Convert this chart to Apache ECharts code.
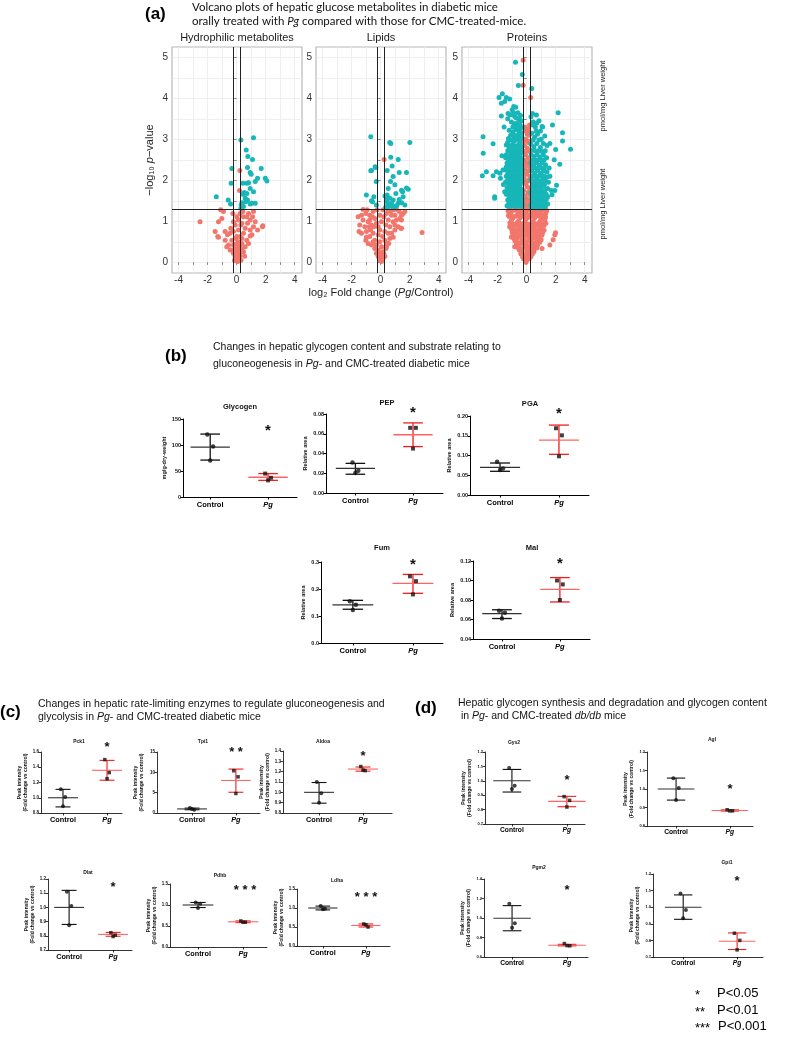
<!DOCTYPE html>
<html><head><meta charset="utf-8">
<script src="https://cdn.jsdelivr.net/npm/echarts@6.0.0/dist/echarts.min.js"></script>
<style>html,body{margin:0;padding:0;background:#fff}#c{width:789px;height:1039px}</style>
</head><body><div id="c"></div>
<script>
// ---------------- DATA ----------------
// Volcano plots: [log2 fold change, -log10 p]
const hydroSig = [[0.29,2.98],[1.16,3.04],[0.66,2.74],[0.77,2.58],[1.09,2.51],[-0.33,2.29],[0.75,2.31],[1.69,2.29],[0.93,2.19],[1.0,2.15],[1.44,2.05],[1.97,2.05],[2.08,1.98],[1.28,1.97],[-0.38,1.93],[0.43,1.93],[0.70,1.93],[0.82,1.94],[0.93,1.80],[1.16,1.72],[0.52,1.70],[0.43,1.66],[0.70,1.68],[-1.4,1.6],[0.59,1.56],[0.75,1.52],[-0.58,1.52],[0.36,1.45],[1.05,1.44],[1.28,1.44],[0.93,1.42],[-0.42,1.42],[0.31,1.40],[0.47,1.36],[0.29,1.32],[0.62,1.48]];
const hydroNs = [[0.22,2.24],[0.2,1.75],[-2.52,0.99],[-0.91,1.24],[-1.02,1.07],[-1.25,0.99],[-1.48,0.75],[-1.25,0.61],[-0.79,0.75],[-0.63,0.67],[-0.45,0.71],[-0.26,1.19],[0.24,1.19],[0.47,1.11],[0.70,1.11],[0.93,1.03],[0.75,0.95],[0.36,0.95],[1.16,0.87],[1.80,0.89],[0.59,0.83],[0.93,0.79],[1.05,0.67],[0.47,0.71],[0.24,0.63],[0.70,0.54],[0.36,0.46],[0.01,0.46],[-0.33,0.54],[-0.56,0.42],[-0.1,0.34],[0.13,0.30],[0.24,0.18],[-0.1,0.14],[0.01,0.06],[-0.22,0.22],[0.47,0.26],[0.59,0.38],[-0.45,0.30],[-0.68,0.38],[0.01,0.63],[-0.22,0.75],[0.13,0.79],[0.29,0.91],[0.13,1.03],[0.43,1.24],[1.16,1.24],[0.82,1.19],[1.1,1.11],[1.28,0.99],[1.44,0.79],[-0.40,0.83],[-0.1,0.91],[0.08,0.02],[-0.03,0.1],[0.2,0.12],[0.36,0.34],[0.82,0.46],[-0.22,0.42],[-0.79,0.54],[0.01,1.11],[-0.22,0.99],[0.93,0.64],[0.36,0.58],[0.13,0.50],[-0.33,0.30],[-0.1,0.22],[0.29,0.26],[-1.3,0.63],[1.78,0.87],[0.05,0.2],[0.15,0.4],[-0.05,0.58],[0.55,0.15],[-0.15,0.05],[0.3,0.05],[-1.1,1.28]];
const lipidSig = [[-0.68,3.06],[0.63,2.92],[0.70,2.90],[2.01,2.92],[0.70,2.56],[1.21,2.51],[-0.68,2.23],[-0.38,2.33],[0.79,2.35],[-0.33,2.31],[-0.63,2.24],[0.45,2.24],[1.28,2.19],[1.78,2.19],[0.86,2.09],[-0.30,1.97],[0.68,1.97],[0.98,1.89],[0.52,1.80],[1.44,1.76],[1.90,1.78],[1.78,1.81],[0.45,1.64],[1.05,1.68],[-0.98,1.64],[-0.47,1.60],[0.63,1.56],[0.86,1.52],[1.55,1.60],[1.51,1.72],[-0.56,1.48],[-0.63,1.50],[0.45,1.48],[0.75,1.44],[1.21,1.44],[1.44,1.45],[0.59,1.37],[0.98,1.36],[-0.29,1.40],[1.67,1.40],[1.28,1.53],[0.35,1.35],[0.5,1.42],[0.85,1.34],[1.1,1.38],[0.4,1.55],[0.3,1.62]];
const lipidNs = [[0.24,2.51],[-1.21,1.29],[-1.55,1.11],[-1.02,1.19],[-0.75,1.15],[-0.52,1.24],[-1.21,1.03],[-0.86,0.99],[-0.63,0.91],[-0.40,1.07],[-0.29,0.95],[-1.32,0.71],[-0.98,0.75],[-0.70,0.79],[-1.02,0.54],[-0.75,0.63],[-0.52,0.71],[-0.40,0.54],[-0.63,0.42],[-0.40,0.34],[-0.29,0.22],[-0.17,0.14],[-0.06,0.06],[0.06,0.02],[0.17,0.1],[0.22,0.22],[0.36,0.34],[0.45,0.46],[0.63,0.58],[0.75,0.71],[0.98,0.79],[1.21,0.87],[1.44,1.03],[1.55,1.19],[1.28,1.24],[0.98,1.15],[0.68,1.24],[0.40,1.19],[0.22,1.11],[0.52,1.03],[0.86,0.99],[1.09,1.03],[0.36,0.91],[0.63,0.87],[0.29,0.75],[0.52,0.71],[0.13,0.63],[0.29,0.54],[-0.06,0.50],[-0.17,0.67],[-0.06,0.79],[-0.17,0.87],[0.06,0.99],[-0.06,1.15],[-0.24,1.28],[0.06,0.38],[-0.17,0.30],[0.13,0.26],[0.29,0.15],[-0.47,0.87],[-0.79,0.87],[-1.09,0.87],[-1.44,0.91],[-1.49,0.75],[-0.98,0.61],[-0.86,0.46],[-0.52,0.50],[-0.29,0.42],[0.75,1.15],[1.44,1.15],[1.67,1.24],[1.32,1.07],[0.98,0.91],[1.44,0.83],[0.86,0.61],[0.56,0.46],[0.40,0.38],[0.06,0.14],[-0.10,0.22],[-0.75,1.03],[-1.32,1.15],[2.85,0.73],[1.39,0.83],[-0.93,1.28],[-0.56,1.11],[0.17,1.28],[0.52,1.28],[0.86,1.28],[1.09,1.29]];
const protSig = [[-0.77,4.88],[-0.3,4.58],[-0.57,4.31],[0.35,4.24],[-1.67,4.11],[-1.9,4.02],[-1.4,4.02],[-1.17,3.98],[-1.74,3.88],[-1.51,3.92],[-0.89,3.80],[2.17,3.65],[0.40,3.63],[0.67,3.59],[-1.74,3.57],[-1.28,3.63],[-0.94,3.59],[1.78,3.35],[1.06,3.31],[-3.0,3.06],[2.47,3.16],[2.47,2.96],[3.02,2.76],[-2.31,2.89],[-2.99,2.66],[-2.77,2.21],[-3.05,2.11],[-2.31,2.11],[-2.08,2.21],[-1.80,2.05],[-1.84,2.17],[-1.63,2.25],[-2.2,1.6],[-2.2,1.56],[-1.51,1.72],[2.28,2.39],[1.94,1.75],[2.06,1.88],[2.0,2.75],[1.6,2.9],[1.9,2.5],[-1.6,1.9],[-1.7,2.6],[-1.55,3.3],[-1.3,3.5],
[-1.0,3.72],[-0.75,3.78],[-0.6,3.65],[-0.8,3.55],[-0.5,3.48],[-1.05,3.42],[-0.85,3.38],[-0.65,3.4],[-0.45,3.35],[-0.35,3.45],[-1.2,3.22],[-0.95,3.18],[-0.75,3.24],[-0.55,3.2],[-0.38,3.16],[-0.3,3.28],[-1.25,3.02],[-1.05,2.98],[-0.85,3.04],[-0.65,3.0],[-0.48,2.96],[-0.32,3.05],[-1.4,2.86],[-1.15,2.84],[-0.95,2.88],[-0.75,2.83],[-0.55,2.87],[-0.38,2.82],[-1.3,2.72],[-1.1,2.68],[-0.9,2.72],[-0.7,2.69],[-0.5,2.73],[-0.33,2.68],[-1.45,2.55],[-1.2,2.57],[-1.0,2.53],[-0.8,2.56],[-0.6,2.52],[-0.42,2.57],[-0.3,2.5],[-1.35,2.42],[-1.12,2.38],[-0.92,2.42],[-0.72,2.39],[-0.52,2.43],[-0.35,2.38],[-1.5,2.26],[-1.25,2.23],[-1.05,2.27],[-0.85,2.24],[-0.65,2.27],[-0.45,2.23],[-0.3,2.26],[-1.4,2.1],[-1.18,2.12],[-0.98,2.08],[-0.78,2.12],[-0.58,2.09],[-0.4,2.13],[-1.45,1.96],[-1.22,1.93],[-1.02,1.97],[-0.82,1.94],[-0.62,1.97],[-0.44,1.93],[-0.3,1.98],[-1.35,1.82],[-1.12,1.78],[-0.92,1.82],[-0.72,1.79],[-0.52,1.83],[-0.35,1.78],[-1.4,1.66],[-1.18,1.63],[-0.98,1.67],[-0.78,1.64],[-0.58,1.67],[-0.42,1.63],[-0.3,1.68],[-1.3,1.52],[-1.08,1.48],[-0.88,1.52],[-0.68,1.49],[-0.48,1.53],[-0.33,1.48],[-1.35,1.38],[-1.15,1.37],[-0.95,1.39],[-0.75,1.36],[-0.55,1.39],[-0.38,1.37],[-0.28,1.4],
[-1.15,3.6],[-0.9,3.65],[-0.7,3.52],[-0.42,3.58],[-0.95,3.3],[-0.7,3.32],[-0.5,3.25],[-1.1,3.1],[-0.9,3.12],[-0.6,3.1],[-0.42,3.02],[-1.3,2.93],[-1.0,2.8],[-0.85,2.95],[-0.65,2.78],[-0.45,2.9],[-1.2,2.78],[-1.4,2.62],[-1.05,2.62],[-0.85,2.64],[-0.68,2.6],[-0.48,2.63],[-0.38,2.75],[-1.25,2.47],[-1.05,2.45],[-0.82,2.48],[-0.62,2.46],[-0.42,2.47],[-1.4,2.33],[-1.15,2.31],[-0.95,2.34],[-0.75,2.31],[-0.55,2.34],[-0.36,2.32],[-1.3,2.18],[-1.08,2.18],[-0.88,2.17],[-0.68,2.19],[-0.48,2.18],[-0.32,2.17],[-1.3,2.03],[-1.1,2.03],[-0.9,2.02],[-0.7,2.04],[-0.5,2.03],[-0.35,2.06],[-1.25,1.88],[-1.05,1.88],[-0.85,1.88],[-0.65,1.9],[-0.45,1.88],[-1.28,1.73],[-1.05,1.72],[-0.85,1.74],[-0.65,1.73],[-0.48,1.74],[-0.33,1.73],[-1.2,1.58],[-1.0,1.58],[-0.8,1.57],[-0.6,1.59],[-0.4,1.57],[-1.22,1.44],[-1.0,1.44],[-0.8,1.45],[-0.6,1.44],[-0.42,1.45],[-0.3,1.55],
[0.3,3.55],[0.45,3.42],[0.6,3.3],[0.85,3.45],[1.1,3.3],[0.35,3.15],[0.55,3.05],[0.75,3.12],[1.0,3.0],[1.25,3.08],[0.3,2.88],[0.5,2.82],[0.7,2.9],[0.95,2.8],[1.15,2.9],[1.4,2.85],[0.32,2.62],[0.52,2.58],[0.72,2.63],[0.92,2.57],[1.15,2.62],[1.38,2.55],[0.3,2.42],[0.48,2.38],[0.68,2.43],[0.88,2.37],[1.08,2.42],[1.3,2.38],[1.55,2.3],[0.35,2.22],[0.55,2.18],[0.75,2.23],[0.95,2.17],[1.15,2.22],[1.4,2.2],[1.6,2.1],[0.3,2.02],[0.5,1.98],[0.7,2.03],[0.9,1.97],[1.1,2.02],[1.3,1.98],[1.5,1.95],[0.38,1.85],[0.6,1.83],[0.8,1.87],[1.0,1.83],[1.2,1.86],[1.45,1.8],[1.7,1.75],[0.3,1.7],[0.5,1.68],[0.7,1.72],[0.9,1.67],[1.1,1.71],[1.35,1.66],[1.75,1.65],[0.35,1.56],[0.55,1.53],[0.75,1.57],[0.95,1.52],[1.15,1.56],[1.35,1.53],[0.3,1.4],[0.5,1.38],[0.7,1.42],[0.9,1.37],[1.1,1.41],[1.3,1.38],
[0.4,3.35],[0.7,3.4],[0.95,3.2],[0.45,2.98],[0.65,3.2],[0.85,2.98],[0.4,2.73],[0.6,2.72],[0.82,2.72],[1.05,2.7],[1.28,2.72],[0.4,2.5],[0.6,2.48],[0.8,2.5],[1.0,2.48],[1.2,2.5],[0.42,2.3],[0.62,2.3],[0.82,2.3],[1.02,2.3],[1.22,2.3],[0.4,2.1],[0.6,2.1],[0.8,2.1],[1.0,2.1],[1.2,2.1],[1.4,2.08],[0.45,1.93],[0.65,1.92],[0.85,1.93],[1.05,1.92],[1.25,1.92],[0.4,1.78],[0.6,1.76],[0.8,1.78],[1.0,1.76],[1.25,1.75],[0.4,1.62],[0.6,1.62],[0.8,1.63],[1.0,1.62],[1.2,1.62],[1.45,1.6],[0.4,1.47],[0.6,1.46],[0.8,1.47],[1.0,1.46],[1.2,1.47],[1.45,1.42],[0.35,1.34],[0.6,1.33],[0.8,1.33],[1.0,1.33],[1.2,1.33]];
const protNs = [[-0.24,4.93],[-0.24,4.32],[0.28,4.02],[0.2,3.35],[0.1,3.25],[-0.1,3.2],[0.18,3.1],[-0.05,3.0],[0.12,2.92],[-0.15,2.85],[0.05,2.78],[0.2,2.7],[-0.08,2.62],[0.1,2.55],[-0.2,2.5],[0.0,2.42],[0.18,2.35],[-0.12,2.3],[0.08,2.22],[-0.02,2.15],[0.22,2.1],[-0.18,2.05],[0.12,1.98],[-0.06,1.92],[0.02,1.85],[0.2,1.8],[-0.2,1.75],[0.1,1.7],[-0.1,1.62],[0.0,1.55],[0.16,1.5],[-0.16,1.45],[0.06,1.4],[-0.06,1.35],[0.22,1.33],[-0.22,1.32],[-0.04,2.72],[0.04,3.12],[0.15,2.0],[-0.14,2.4],
[-0.12,3.3],[0.15,3.2],[-0.2,2.95],[0.22,2.95],[-0.18,2.7],[0.2,2.5],[-0.22,2.2],[0.22,2.25],[-0.2,1.95],[0.22,1.65],[-0.22,1.55],
[-1.28,1.26],[-1.05,1.24],[-0.8,1.27],[-0.55,1.22],[-0.3,1.26],[-0.05,1.23],[0.2,1.27],[0.45,1.22],[0.7,1.26],[0.95,1.23],[1.2,1.27],[1.38,1.25],[-1.2,1.12],[-0.95,1.08],[-0.7,1.13],[-0.45,1.09],[-0.2,1.12],[0.05,1.08],[0.3,1.12],[0.55,1.09],[0.8,1.13],[1.05,1.08],[1.3,1.1],[-1.15,0.96],[-0.9,0.93],[-0.65,0.97],[-0.4,0.94],[-0.15,0.97],[0.1,0.93],[0.35,0.96],[0.6,0.94],[0.85,0.97],[1.1,0.93],[1.32,0.95],[-1.05,0.82],[-0.8,0.78],[-0.55,0.81],[-0.3,0.79],[-0.05,0.82],[0.2,0.78],[0.45,0.81],[0.7,0.79],[0.95,0.82],[1.2,0.78],[-0.95,0.66],[-0.7,0.63],[-0.45,0.67],[-0.2,0.64],[0.05,0.66],[0.3,0.63],[0.55,0.67],[0.8,0.64],[1.05,0.66],[-0.8,0.52],[-0.55,0.48],[-0.3,0.51],[-0.05,0.49],[0.2,0.52],[0.45,0.48],[0.7,0.51],[0.9,0.49],[-0.6,0.36],[-0.38,0.33],[-0.15,0.37],[0.08,0.34],[0.3,0.36],[0.52,0.33],[0.7,0.35],[-0.4,0.21],[-0.2,0.18],[0.0,0.22],[0.2,0.19],[0.4,0.21],[-0.2,0.08],[0.0,0.05],[0.18,0.09],
[-1.1,1.18],[-0.62,1.17],[-0.15,1.19],[0.35,1.17],[0.85,1.19],[1.3,1.18],[-1.05,1.02],[-0.55,1.01],[-0.08,1.03],[0.45,1.01],[0.95,1.02],[1.25,1.03],[-0.95,0.88],[-0.45,0.86],[0.02,0.87],[0.5,0.88],[1.0,0.86],[-0.85,0.73],[-0.35,0.71],[0.15,0.72],[0.65,0.73],[1.1,0.72],[-0.65,0.58],[-0.18,0.56],[0.35,0.57],[0.8,0.58],[-0.5,0.43],[0.0,0.41],[0.55,0.42],[-0.3,0.28],[0.15,0.27],[0.5,0.26],[-0.1,0.14],[0.12,0.13],
[-1.2,1.3],[-0.95,1.31],[-0.7,1.3],[-0.45,1.3],[0.1,1.3],[0.35,1.3],[0.6,1.31],[0.85,1.3],[1.1,1.31],[1.32,1.3],[-1.25,1.15],[-0.85,1.12],[-0.35,1.14],[0.15,1.15],[0.65,1.15],[1.15,1.15],[-1.1,0.9],[-0.7,0.9],[-0.25,0.88],[0.25,0.88],[0.75,0.9],[1.2,0.9],[-1.0,0.74],[-0.6,0.73],[-0.1,0.74],[0.4,0.74],[0.9,0.72],[-0.88,0.58],[-0.35,0.6],[0.15,0.58],[0.62,0.6],[1.0,0.55],[-0.7,0.45],[-0.2,0.45],[0.3,0.45],[0.75,0.42],[-0.5,0.3],[0.32,0.3],[-0.28,0.13],[0.3,0.14],[0.05,0.3],[-0.05,0.0],
[-1.05,0.62],[-0.82,0.38],[1.94,0.67],[1.82,0.55],[1.6,0.42],[-1.17,0.87],[1.99,0.72],[1.06,0.34],[-0.94,0.62]];
const volcanoXTicks = [-4,-2,0,2,4];
const volcanoXGrid = [-4,-3,-2,-1,0,1,2,3,4];
const volcanoYTicks = [0,1,2,3,4,5];
const volcanoYGrid = [0,0.5,1,1.5,2,2.5,3,3.5,4,4.5,5];
const FC_LINE = 0.263, P_LINE = 1.301;

// Dot plots: individual values (Control, Pg) and [mean, SD low, SD high]
const groups = ['Control', 'Pg'];
const glyCtrl = [120, 97, 70],         glyPg = [45, 37, 32];
const glyCtrlStat = [96, 71, 121],     glyPgStat = [38, 32, 45];
const pepCtrl = [0.031, 0.0226, 0.0203], pepPg = [0.066, 0.066, 0.045];
const pepCtrlStat = [0.025, 0.019, 0.030], pepPgStat = [0.059, 0.047, 0.071];
const pgaCtrl = [0.084, 0.067, 0.063], pgaPg = [0.169, 0.151, 0.098];
const pgaCtrlStat = [0.070, 0.060, 0.081], pgaPgStat = [0.139, 0.103, 0.177];
const fumCtrl = [0.155, 0.142, 0.122], fumPg = [0.247, 0.229, 0.180];
const fumCtrlStat = [0.141, 0.125, 0.158], fumPgStat = [0.221, 0.184, 0.254];
const malCtrl = [0.069, 0.067, 0.061], malPg = [0.100, 0.096, 0.080];
const malCtrlStat = [0.066, 0.061, 0.070], malPgStat = [0.091, 0.078, 0.103];
const pck1Ctrl = [1.11, 1.01, 0.89],   pck1Pg = [1.50, 1.33, 1.25];
const pck1CtrlStat = [1.0, 0.88, 1.11], pck1PgStat = [1.36, 1.23, 1.49];
const tpi1Ctrl = [1.2, 0.8, 1.0],      tpi1Pg = [10.4, 8.9, 4.8];
const tpi1CtrlStat = [1.0, 0.8, 1.2],  tpi1PgStat = [8.0, 5.1, 10.8];
const aldoaCtrl = [1.10, 0.99, 0.90],  aldoaPg = [1.25, 1.21, 1.215];
const aldoaCtrlStat = [1.0, 0.895, 1.095], aldoaPgStat = [1.225, 1.205, 1.245];
const dlatCtrl = [1.11, 1.01, 0.875],  dlatPg = [0.822, 0.805, 0.795];
const dlatCtrlStat = [1.0, 0.88, 1.12], dlatPgStat = [0.81, 0.797, 0.824];
const pdhbCtrl = [1.06, 1.03, 0.93],   pdhbPg = [0.62, 0.59, 0.59];
const pdhbCtrlStat = [1.0, 0.94, 1.06], pdhbPgStat = [0.60, 0.58, 0.62];
const ldhaCtrl = [1.05, 0.98, 0.97],   ldhaPg = [0.58, 0.50, 0.56];
const ldhaCtrlStat = [1.0, 0.95, 1.05], ldhaPgStat = [0.54, 0.50, 0.58];
const gys2Ctrl = [1.089, 0.966, 0.943], gys2Pg = [0.89, 0.864, 0.818];
const gys2CtrlStat = [1.0, 0.922, 1.079], gys2PgStat = [0.857, 0.82, 0.892];
const aglCtrl = [1.058, 1.005, 0.94],  aglPg = [0.888, 0.882, 0.882];
const aglCtrlStat = [1.0, 0.94, 1.059], aglPgStat = [0.884, 0.881, 0.887];
const pgm2Ctrl = [1.145, 0.945, 0.90], pgm2Pg = [0.738, 0.715, 0.717];
const pgm2CtrlStat = [0.997, 0.869, 1.127], pgm2PgStat = [0.72, 0.714, 0.73];
const gpi1Ctrl = [1.082, 0.983, 0.933], gpi1Pg = [0.843, 0.80, 0.743];
const gpi1CtrlStat = [1.0, 0.927, 1.074], gpi1PgStat = [0.795, 0.745, 0.845];

// ---------------- BUILD ----------------
const AR = '"Liberation Sans", Arial, sans-serif';
const LT = 'Lato, "Open Sans", sans-serif';
const JIT = [-0.05, 0.05, 0];
const grids = [], xAxes = [], yAxes = [], series = [], graphics = [];

function txt(x, y, text, o) {
  o = o || {};
  const base = {fontFamily: o.ff || AR, fontSize: o.fs || 10, fontWeight: o.fw || 'normal', fill: o.color || '#000'};
  const rich = {};
  if (o.rich) Object.keys(o.rich).forEach(k => { rich[k] = Object.assign({}, base, o.rich[k]); });
  graphics.push({type: 'text', x: x, y: y, rotation: o.rot || 0, silent: true, z: 100,
    style: Object.assign({text: text, align: o.align || 'left', verticalAlign: o.va || 'middle', rich: rich}, base)});
}

// ---- Volcano plots ----
const volcanoes = [
  {left: 172, sig: hydroSig, ns: hydroNs, title: 'Hydrophilic metabolites'},
  {left: 316, sig: lipidSig, ns: lipidNs, title: 'Lipids'},
  {left: 462, sig: protSig, ns: protNs, title: 'Proteins'}
];
const RED = '#f2766b', TEAL = '#17b6b8';
volcanoes.forEach((v, i) => {
  grids.push({left: v.left, top: 47, width: 130, height: 226, show: true, borderColor: '#b8b8b8', borderWidth: 1.2, backgroundColor: '#fff'});
  const xa = {type: 'value', gridIndex: i, min: -4.45, max: 4.5,
    axisLine: {show: false},
    axisTick: {show: true, length: 2.5, customValues: volcanoXGrid, lineStyle: {color: '#666', width: 0.8}},
    axisLabel: {customValues: volcanoXTicks, fontFamily: AR, fontSize: 10, color: '#333', margin: 2},
    splitLine: {show: true, lineStyle: {color: '#ebebeb', width: 0.8}}};
  if (i === 1) {
    xa.name = 'log₂ Fold change ({i|Pg}/Control)';
    xa.nameLocation = 'middle'; xa.nameGap = 14;
    xa.nameTextStyle = {fontFamily: AR, fontSize: 11, color: '#222',
      rich: {i: {fontFamily: AR, fontSize: 11, fontStyle: 'italic', color: '#222'}}};
  }
  xAxes.push(xa);
  const ya = {type: 'value', gridIndex: i, min: -0.26, max: 5.25,
    axisLine: {show: false},
    axisTick: {show: true, length: 2.5, customValues: volcanoYGrid, lineStyle: {color: '#666', width: 0.8}},
    axisLabel: {customValues: volcanoYTicks, fontFamily: AR, fontSize: 10, color: '#333', margin: 4},
    splitLine: {show: true, lineStyle: {color: '#ebebeb', width: 0.8}}};
  if (i === 0) {
    ya.name = '−log₁₀ {i|p}−value';
    ya.nameLocation = 'middle'; ya.nameGap = 17; ya.nameRotate = 90;
    ya.nameTextStyle = {fontFamily: AR, fontSize: 11, color: '#222',
      rich: {i: {fontFamily: AR, fontSize: 11, fontStyle: 'italic', color: '#222'}}};
  }
  yAxes.push(ya);
  series.push({type: 'scatter', xAxisIndex: i, yAxisIndex: i, data: v.ns, symbolSize: 5, itemStyle: {color: RED, opacity: 1}, z: 2});
  series.push({type: 'scatter', xAxisIndex: i, yAxisIndex: i, data: v.sig, symbolSize: 5, itemStyle: {color: TEAL, opacity: 1}, z: 3,
    markLine: {silent: true, symbol: 'none', label: {show: false}, animation: false,
      lineStyle: {color: '#222', width: 1, type: 'solid'},
      data: [{xAxis: -FC_LINE}, {xAxis: FC_LINE}, {yAxis: P_LINE}]}});
  txt(v.left + 65, 38, v.title, {align: 'center', fs: 11, color: '#1a1a1a'});
});
txt(603, 96, 'pmol/mg Liver weight', {rot: Math.PI / 2, align: 'center', fs: 7.5, color: '#222'});
txt(603, 204, 'pmol/mg Liver weight', {rot: Math.PI / 2, align: 'center', fs: 7.5, color: '#222'});

// ---- Dot plots ----
function renderSummary(params, api) {
  const x = api.value(0), m = api.value(1), lo = api.value(2), hi = api.value(3), g = api.value(4);
  const lw = api.value(5);
  const bar = g === 0 ? '#111' : '#f21d1d';
  const mc = g === 0 ? '#333' : '#ff6464';
  const a = api.coord([x - 0.34, m]), b = api.coord([x + 0.34, m]);
  const l = api.coord([x, lo]), h = api.coord([x, hi]);
  const c1 = api.coord([x - 0.17, lo]), c2 = api.coord([x + 0.17, lo]);
  const c3 = api.coord([x - 0.17, hi]), c4 = api.coord([x + 0.17, hi]);
  const ln = (p, q, col) => ({type: 'line', shape: {x1: p[0], y1: p[1], x2: q[0], y2: q[1]}, style: {stroke: col, lineWidth: lw}});
  return {type: 'group', children: [ln(l, h, bar), ln(c1, c2, bar), ln(c3, c4, bar), ln(a, b, mc)]};
}

function dotPlot(p) {
  const gi = grids.length;
  grids.push({left: p.l, top: p.t, width: p.r - p.l, height: p.b - p.t});
  xAxes.push({type: 'value', gridIndex: gi, min: p.xmin, max: p.xmax,
    axisLine: {show: true, lineStyle: {color: '#000', width: p.aw}},
    axisTick: {show: true, customValues: [1, 2], length: 2.5, lineStyle: {color: '#000', width: p.aw}},
    axisLabel: {customValues: [1, 2], margin: p.cm, formatter: v => v === 1 ? '{b|' + groups[0] + '}' : '{i|' + groups[1] + '}',
      rich: {b: {fontFamily: AR, fontWeight: 'bold', fontSize: p.cf, color: '#000'},
             i: {fontFamily: AR, fontWeight: 'bold', fontStyle: 'italic', fontSize: p.cf, color: '#000'}}},
    splitLine: {show: false}});
  yAxes.push({type: 'value', gridIndex: gi, min: p.ymin, max: p.ymax, interval: p.step,
    axisLine: {show: true, lineStyle: {color: '#000', width: p.aw}},
    axisTick: {show: true, length: 2.5, lineStyle: {color: '#000', width: p.aw}},
    axisLabel: {fontFamily: AR, fontWeight: 'bold', fontSize: p.lf, color: '#111', margin: 2,
      formatter: v => v.toFixed(p.dec)},
    splitLine: {show: false},
    name: p.yname, nameLocation: 'middle', nameRotate: 90, nameGap: p.ng,
    nameTextStyle: {fontFamily: AR, fontWeight: 'bold', fontSize: p.nf, color: '#111', lineHeight: p.nf + 1}});
  series.push({type: 'custom', xAxisIndex: gi, yAxisIndex: gi, renderItem: renderSummary, encode: {x: 0, y: 1}, z: 2,
    data: [[1].concat(p.cs, [0, p.lw]), [2].concat(p.ps, [1, p.lw])]});
  series.push({type: 'scatter', xAxisIndex: gi, yAxisIndex: gi, symbol: 'circle', symbolSize: p.ps0, z: 3,
    itemStyle: {color: '#111'}, data: p.c.map((v, k) => [1 + JIT[k], v])});
  series.push({type: 'scatter', xAxisIndex: gi, yAxisIndex: gi, symbol: 'rect', symbolSize: p.ps0 - 0.5, z: 3,
    itemStyle: {color: '#111'}, data: p.p.map((v, k) => [2 + JIT[k], v])});
  txt(p.tx, p.ty, p.title, {align: 'center', fs: p.tf, fw: 'bold', color: '#111'});
  txt(p.sx, p.sy, p.star, {align: 'center', fs: p.sf, fw: 'bold', color: '#111'});
}

const B = {aw: 1, cm: 4, cf: 7.5, lf: 5.5, nf: 5.5, tf: 7.5, sf: 15, ps0: 4.5, lw: 1.3, ng: 15};
const C = {aw: 0.8, cm: 3, cf: 7.3, lf: 4.5, nf: 5, tf: 5, sf: 13, ps0: 4, lw: 1.1, ng: 12};
const D = {aw: 0.8, cm: 3, cf: 6.7, lf: 4, nf: 5, tf: 5, sf: 13, ps0: 4, lw: 1.1, ng: 12};
const PI = 'Peak intensity\n(Fold change vs control)';
const plots = [
  Object.assign({}, B, {title: 'Glycogen', c: glyCtrl, p: glyPg, cs: glyCtrlStat, ps: glyPgStat, l: 183, t: 419, r: 297, b: 497, xmin: 0.53, xmax: 2.5, ymin: 0, ymax: 150, step: 50, dec: 0, yname: 'mg/g-dry-weight', ng: 13, tx: 240, ty: 407, sx: 268, sy: 431, star: '*'}),
  Object.assign({}, B, {title: 'PEP', c: pepCtrl, p: pepPg, cs: pepCtrlStat, ps: pepPgStat, l: 326, t: 414, r: 443, b: 493, xmin: 0.49, xmax: 2.52, ymin: 0, ymax: 0.08, step: 0.02, dec: 2, yname: 'Relative area', ng: 17, tx: 387, ty: 403, sx: 413, sy: 413, star: '*'}),
  Object.assign({}, B, {title: 'PGA', c: pgaCtrl, p: pgaPg, cs: pgaCtrlStat, ps: pgaPgStat, l: 470, t: 416, r: 589, b: 495, xmin: 0.49, xmax: 2.51, ymin: 0, ymax: 0.2, step: 0.05, dec: 2, yname: 'Relative area', ng: 17, tx: 530, ty: 404, sx: 559, sy: 414, star: '*'}),
  Object.assign({}, B, {title: 'Fum', c: fumCtrl, p: fumPg, cs: fumCtrlStat, ps: fumPgStat, l: 321, t: 562, r: 443, b: 643, xmin: 0.47, xmax: 2.5, ymin: 0, ymax: 0.3, step: 0.1, dec: 1, yname: 'Relative area', ng: 14, tx: 382, ty: 548, sx: 413, sy: 565, star: '*'}),
  Object.assign({}, B, {title: 'Mal', c: malCtrl, p: malPg, cs: malCtrlStat, ps: malPgStat, l: 473, t: 561, r: 590, b: 639, xmin: 0.5, xmax: 2.52, ymin: 0.04, ymax: 0.12, step: 0.02, dec: 2, yname: 'Relative area', ng: 17, tx: 532, ty: 548, sx: 560, sy: 564, star: '*'}),
  Object.assign({}, C, {title: 'Pck1', c: pck1Ctrl, p: pck1Pg, cs: pck1CtrlStat, ps: pck1PgStat, l: 41, t: 752, r: 122, b: 813, xmin: 0.5, xmax: 2.34, ymin: 0.8, ymax: 1.6, step: 0.2, dec: 1, yname: PI, tx: 79, ty: 742, sx: 107, sy: 747, star: '*'}),
  Object.assign({}, C, {title: 'Tpi1', c: tpi1Ctrl, p: tpi1Pg, cs: tpi1CtrlStat, ps: tpi1PgStat, l: 157, t: 752, r: 260, b: 813, xmin: 0.2, xmax: 2.55, ymin: 0, ymax: 15, step: 5, dec: 0, yname: PI, tx: 203, ty: 742, sx: 236, sy: 752, star: '* *'}),
  Object.assign({}, C, {title: 'Aldoa', c: aldoaCtrl, p: aldoaPg, cs: aldoaCtrlStat, ps: aldoaPgStat, l: 283, t: 751, r: 392, b: 813, xmin: 0.18, xmax: 2.66, ymin: 0.8, ymax: 1.4, step: 0.1, dec: 1, yname: PI, tx: 323, ty: 742, sx: 363, sy: 756, star: '*'}),
  Object.assign({}, C, {title: 'Dlat', c: dlatCtrl, p: dlatPg, cs: dlatCtrlStat, ps: dlatPgStat, l: 48, t: 879, r: 132, b: 950, xmin: 0.52, xmax: 2.43, ymin: 0.7, ymax: 1.2, step: 0.1, dec: 1, yname: PI, tx: 88, ty: 873, sx: 113, sy: 887, star: '*'}),
  Object.assign({}, C, {title: 'Pdhb', c: pdhbCtrl, p: pdhbPg, cs: pdhbCtrlStat, ps: pdhbPgStat, l: 170, t: 884, r: 267, b: 947, xmin: 0.38, xmax: 2.53, ymin: 0, ymax: 1.5, step: 0.5, dec: 1, yname: PI, tx: 220, ty: 876, sx: 245, sy: 890, star: '* * *'}),
  Object.assign({}, C, {title: 'Ldha', c: ldhaCtrl, p: ldhaPg, cs: ldhaCtrlStat, ps: ldhaPgStat, l: 297, t: 889, r: 390, b: 946, xmin: 0.4, xmax: 2.56, ymin: 0, ymax: 1.5, step: 0.5, dec: 1, yname: PI, tx: 337, ty: 881, sx: 366, sy: 897, star: '* * *'}),
  Object.assign({}, D, {title: 'Gys2', c: gys2Ctrl, p: gys2Pg, cs: gys2CtrlStat, ps: gys2PgStat, l: 485, t: 752, r: 585, b: 824, xmin: 0.51, xmax: 2.33, ymin: 0.7, ymax: 1.2, step: 0.1, dec: 1, yname: PI, tx: 514, ty: 743, sx: 567, sy: 780, star: '*'}),
  Object.assign({}, D, {title: 'Agl', c: aglCtrl, p: aglPg, cs: aglCtrlStat, ps: aglPgStat, l: 647, t: 752, r: 753, b: 826, xmin: 0.46, xmax: 2.43, ymin: 0.8, ymax: 1.2, step: 0.1, dec: 1, yname: PI, tx: 712, ty: 740, sx: 730, sy: 789, star: '*'}),
  Object.assign({}, D, {title: 'Pgm2', c: pgm2Ctrl, p: pgm2Pg, cs: pgm2CtrlStat, ps: pgm2PgStat, l: 484, t: 879, r: 588, b: 957, xmin: 0.49, xmax: 2.38, ymin: 0.6, ymax: 1.4, step: 0.2, dec: 1, yname: PI, tx: 539, ty: 868, sx: 567, sy: 890, star: '*'}),
  Object.assign({}, D, {title: 'Gpi1', c: gpi1Ctrl, p: gpi1Pg, cs: gpi1CtrlStat, ps: gpi1PgStat, l: 653, t: 874, r: 763, b: 957, xmin: 0.44, xmax: 2.48, ymin: 0.7, ymax: 1.2, step: 0.1, dec: 1, yname: PI, tx: 727, ty: 863, sx: 737, sy: 881, star: '*'})
];
plots.forEach(dotPlot);

// ---- Headings ----
const ital = {fontStyle: 'italic'};
txt(145, 14, '(a)', {fs: 17, fw: 'bold'});
txt(192, 7, 'Volcano plots of hepatic glucose metabolites in diabetic mice', {ff: LT, fs: 11.5, color: '#111'});
txt(192, 21, 'orally treated with {i|Pg} compared with those for CMC-treated-mice.', {ff: LT, fs: 11.5, color: '#111', rich: {i: ital}});
txt(165, 356, '(b)', {fs: 17, fw: 'bold'});
txt(213, 347, 'Changes in hepatic glycogen content and substrate relating to', {fs: 10.5, color: '#111'});
txt(213, 364, 'gluconeogenesis in {i|Pg}- and CMC-treated diabetic mice', {fs: 10.5, color: '#111', rich: {i: ital}});
txt(0, 712, '(c)', {fs: 17, fw: 'bold'});
txt(38, 704, 'Changes in hepatic rate-limiting enzymes to regulate gluconeogenesis and', {fs: 10.5, color: '#111'});
txt(38, 717, 'glycolysis in {i|Pg}- and CMC-treated diabetic mice', {fs: 10.5, color: '#111', rich: {i: ital}});
txt(415, 708, '(d)', {fs: 17, fw: 'bold'});
txt(458, 703, 'Hepatic glycogen synthesis and degradation and glycogen content', {fs: 10.5, color: '#111'});
txt(458, 716, ' in {i|Pg}- and CMC-treated {i|db/db} mice', {fs: 10.5, color: '#111', rich: {i: ital}});

// ---- Significance legend ----
txt(695, 995, '*', {fs: 13});
txt(717, 993, 'P<0.05', {fs: 13});
txt(695, 1012, '**', {fs: 13});
txt(717, 1010, 'P<0.01', {fs: 13});
txt(695, 1028, '***', {fs: 13});
txt(718, 1026, 'P<0.001', {fs: 13});

const chart = echarts.init(document.getElementById('c'), null, {renderer: 'canvas', width: 789, height: 1039});
chart.setOption({animation: false, backgroundColor: '#fff', grid: grids, xAxis: xAxes, yAxis: yAxes, series: series, graphic: {elements: graphics}});
</script></body></html>
